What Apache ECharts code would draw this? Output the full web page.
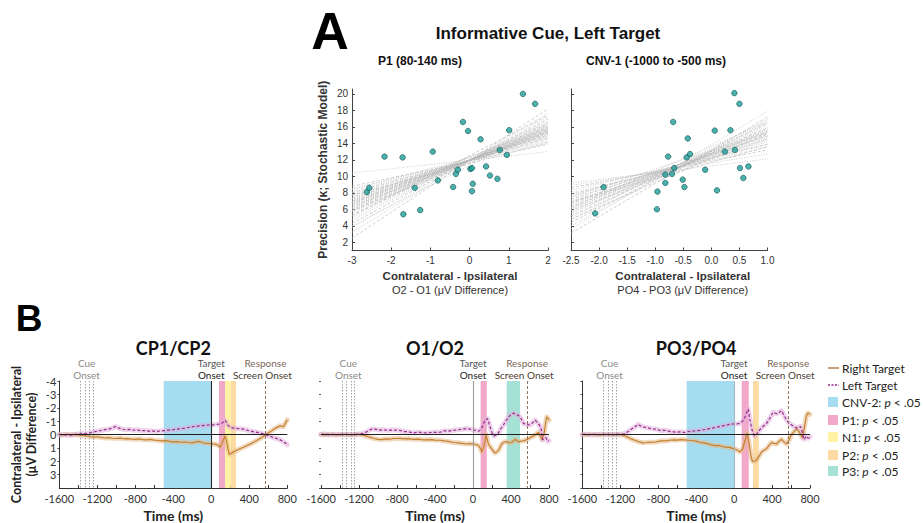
<!DOCTYPE html>
<html>
<head>
<meta charset="utf-8">
<script src="https://cdn.jsdelivr.net/npm/echarts@6/dist/echarts.min.js"></script>
<style>
  html, body { margin: 0; padding: 0; background: #fff; }
  #c { width: 923px; height: 523px; }
</style>
</head>
<body>
<div id="c"></div>
<script>
// ---------- Panel A: precision vs. lateralised amplitude ----------
// [amplitude difference (µV), precision κ]
const p1Points = [
  [-2.62, 8.1], [-2.56, 8.6], [-2.17, 12.4], [-1.71, 12.3], [-1.69, 5.4], [-1.40, 8.6],
  [-1.26, 5.9], [-0.94, 13.0], [-0.81, 9.5], [-0.42, 8.7], [-0.35, 10.3], [-0.30, 10.8],
  [-0.17, 16.6], [-0.04, 15.5], [0.02, 10.9], [0.06, 11.0], [0.08, 9.1], [0.06, 8.2],
  [0.28, 14.5], [0.42, 11.2], [0.52, 10.1], [0.71, 9.7], [0.77, 13.2], [0.95, 12.6],
  [1.01, 15.6], [1.36, 20.0], [1.67, 18.8]
];
const cnvPoints = [
  [-2.07, 5.5], [-1.92, 8.7], [-0.96, 8.15], [-0.97, 6.0], [-0.82, 9.2], [-0.82, 10.2],
  [-0.77, 12.4], [-0.70, 10.3], [-0.68, 16.6], [-0.66, 11.0], [-0.51, 9.6], [-0.48, 8.7],
  [-0.44, 12.3], [-0.42, 14.6], [-0.38, 12.7], [-0.11, 10.8], [0.06, 15.55], [0.10, 8.3],
  [0.24, 13.0], [0.34, 15.6], [0.41, 20.1], [0.42, 13.2], [0.50, 18.8], [0.51, 11.0],
  [0.57, 9.8], [0.66, 11.2]
];
// bootstrapped regression fits: [κ at left edge, κ at right edge]
const p1FitRange = [-3, 2];
const p1Fits = [
  [2.5, 18.2], [3.2, 17.7], [3.8, 17.3], [4.3, 17.0], [4.7, 16.8], [5.0, 16.6], [5.3, 16.4],
  [5.5, 16.3], [5.7, 16.2], [5.9, 16.0], [6.0, 15.9], [6.2, 15.8], [6.3, 15.7], [6.4, 15.7],
  [6.6, 15.6], [6.7, 15.5], [6.8, 15.4], [6.9, 15.4], [7.0, 15.3], [7.1, 15.2], [7.3, 15.1],
  [7.4, 15.0], [7.6, 14.9], [7.8, 14.7], [8.0, 14.6], [8.2, 14.4], [8.5, 14.2], [8.8, 13.9],
  [6.5, 15.2], [7.2, 15.8], [5.8, 15.5], [6.1, 16.5], [10.4, 13.0], [7.7, 14.1], [6.8, 16.0],
  [4.0, 16.2], [5.2, 17.4], [8.4, 14.8]
];
const cnvFitRange = [-2.5, 1.0];
const cnvFits = [
  [3.1, 17.2], [3.6, 17.9], [4.0, 16.8], [4.4, 16.5], [4.7, 16.9], [5.0, 16.2], [5.2, 15.9],
  [5.4, 16.4], [5.6, 15.7], [5.8, 15.5], [6.0, 15.9], [6.1, 15.3], [6.3, 15.1], [6.4, 15.6],
  [6.6, 14.9], [6.7, 15.3], [6.9, 14.7], [7.0, 14.4], [7.2, 14.9], [7.4, 14.2], [7.6, 14.5],
  [7.8, 13.9], [8.0, 13.6], [8.3, 13.9], [8.6, 13.2], [8.9, 12.7], [9.2, 12.1], [6.9, 13.6],
  [5.9, 14.6], [7.5, 15.4], [4.8, 15.2], [6.2, 16.6]
];
const precisionTicks = [2, 4, 6, 8, 10, 12, 14, 16, 18, 20];

// ---------- Panel B: contralateral - ipsilateral waveforms ----------
// [time (ms), µV]; negative values plotted upward
const cpRight = [
  [-1600, 0.00], [-1560, 0.03], [-1520, -0.02], [-1480, 0.02], [-1440, 0.00], [-1400, 0.05],
  [-1360, 0.07], [-1320, 0.10], [-1280, 0.15], [-1240, 0.19], [-1200, 0.17], [-1160, 0.22],
  [-1120, 0.26], [-1080, 0.24], [-1040, 0.28], [-1000, 0.30], [-960, 0.27], [-920, 0.32],
  [-880, 0.31], [-840, 0.35], [-800, 0.36], [-760, 0.33], [-720, 0.38], [-680, 0.40],
  [-640, 0.37], [-600, 0.42], [-560, 0.45], [-520, 0.48], [-480, 0.46], [-440, 0.52],
  [-400, 0.55], [-360, 0.53], [-320, 0.58], [-280, 0.56], [-240, 0.60], [-200, 0.62],
  [-160, 0.55], [-120, 0.52], [-80, 0.64], [-40, 0.66], [0, 0.69], [40, 0.72], [70, 0.80],
  [95, 0.95], [110, 0.70], [130, 0.35], [145, 0.12], [160, 0.50], [175, 1.05], [190, 1.48],
  [210, 1.40], [232, 1.31], [260, 1.22], [300, 1.07], [340, 0.95], [380, 0.80], [420, 0.68],
  [460, 0.52], [500, 0.36], [540, 0.18], [570, 0.03], [600, -0.12], [640, -0.30],
  [680, -0.50], [700, -0.55], [720, -0.65], [740, -0.62], [760, -0.58], [780, -0.85], [800, -1.10]
];
const cpLeft = [
  [-1600, 0.00], [-1560, 0.04], [-1520, 0.02], [-1480, 0.05], [-1440, 0.00], [-1400, -0.03],
  [-1360, -0.07], [-1320, -0.05], [-1280, -0.12], [-1240, -0.20], [-1200, -0.24], [-1160, -0.30],
  [-1120, -0.36], [-1080, -0.40], [-1040, -0.48], [-1010, -0.60], [-980, -0.50], [-940, -0.40],
  [-900, -0.35], [-860, -0.38], [-820, -0.32], [-780, -0.35], [-740, -0.28], [-700, -0.30],
  [-660, -0.25], [-620, -0.27], [-580, -0.22], [-540, -0.26], [-500, -0.29], [-460, -0.32],
  [-420, -0.33], [-380, -0.38], [-340, -0.42], [-300, -0.45], [-260, -0.50], [-220, -0.55],
  [-180, -0.60], [-140, -0.63], [-100, -0.66], [-60, -0.68], [-20, -0.72], [0, -0.71],
  [40, -0.74], [80, -0.78], [110, -0.83], [130, -0.95], [145, -1.07], [160, -0.90],
  [180, -0.64], [200, -0.55], [232, -0.48], [270, -0.45], [303, -0.43], [340, -0.40],
  [380, -0.32], [408, -0.26], [450, -0.20], [513, -0.12], [566, 0.00], [610, 0.10],
  [654, 0.24], [690, 0.30], [724, 0.40], [760, 0.55], [794, 0.71], [800, 0.78]
];
const ooRight = [
  [-1600, 0.00], [-1560, 0.03], [-1520, -0.02], [-1480, 0.02], [-1440, 0.00], [-1400, 0.03],
  [-1360, -0.02], [-1320, 0.02], [-1280, 0.00], [-1240, 0.03], [-1200, -0.02], [-1160, 0.05],
  [-1120, 0.12], [-1080, 0.22], [-1040, 0.30], [-1000, 0.36], [-960, 0.38], [-920, 0.33],
  [-880, 0.35], [-840, 0.30], [-800, 0.30], [-768, 0.29], [-720, 0.33], [-680, 0.31],
  [-628, 0.36], [-580, 0.34], [-540, 0.38], [-487, 0.40], [-440, 0.38], [-400, 0.42],
  [-347, 0.43], [-300, 0.48], [-260, 0.52], [-206, 0.60], [-160, 0.62], [-110, 0.67],
  [-66, 0.71], [-30, 0.68], [0, 0.71], [30, 0.75], [57, 0.83], [80, 1.05], [92, 1.31],
  [110, 1.00], [127, 0.48], [137, 0.00], [150, 0.35], [162, 0.71], [180, 0.90], [197, 1.07],
  [215, 1.25], [232, 1.38], [250, 1.30], [268, 1.19], [285, 0.95], [302, 0.71], [330, 0.55],
  [355, 0.55], [380, 0.62], [408, 0.60], [443, 0.36], [460, 0.45], [478, 0.55], [505, 0.50],
  [531, 0.48], [560, 0.40], [583, 0.31], [610, 0.20], [636, 0.12], [660, 0.00], [689, -0.17],
  [705, 0.05], [724, 0.36], [740, 0.10], [750, -0.12], [765, -0.90], [776, -1.31],
  [790, -1.20], [800, -1.07]
];
const ooLeft = [
  [-1600, 0.00], [-1560, -0.05], [-1520, 0.03], [-1480, -0.02], [-1440, 0.02], [-1400, -0.03],
  [-1360, 0.02], [-1320, -0.02], [-1280, 0.02], [-1240, -0.03], [-1200, 0.00], [-1160, -0.08],
  [-1120, -0.20], [-1080, -0.35], [-1060, -0.42], [-1020, -0.38], [-980, -0.33], [-940, -0.36],
  [-900, -0.30], [-860, -0.33], [-820, -0.33], [-768, -0.30], [-720, -0.22], [-680, -0.20],
  [-628, -0.12], [-580, -0.18], [-540, -0.14], [-487, -0.12], [-440, -0.15], [-400, -0.16],
  [-347, -0.17], [-300, -0.28], [-260, -0.25], [-206, -0.31], [-160, -0.35], [-110, -0.40],
  [-66, -0.45], [-30, -0.40], [0, -0.36], [30, -0.30], [57, -0.24], [80, -0.35], [92, -0.48],
  [110, -0.80], [127, -1.07], [152, -1.19], [170, -0.80], [187, -0.40], [205, -0.05],
  [222, 0.12], [245, 0.00], [268, -0.12], [295, -0.45], [320, -0.71], [345, -1.00],
  [373, -1.31], [400, -1.48], [425, -1.60], [450, -1.50], [478, -1.43], [505, -1.20],
  [531, -0.83], [565, -0.75], [601, -0.71], [630, -0.90], [654, -1.07], [675, -0.90],
  [699, -0.71], [715, -0.50], [734, 0.40], [750, 0.30], [769, 0.24], [785, 0.50], [800, 0.45]
];
const poRight = [
  [-1600, 0.00], [-1560, 0.03], [-1520, -0.02], [-1480, 0.02], [-1440, 0.00], [-1400, 0.03],
  [-1360, -0.02], [-1320, 0.02], [-1280, 0.00], [-1240, 0.03], [-1200, 0.00], [-1160, 0.08],
  [-1120, 0.20], [-1080, 0.35], [-1040, 0.45], [-1000, 0.55], [-960, 0.62], [-920, 0.60],
  [-880, 0.57], [-840, 0.58], [-800, 0.52], [-760, 0.47], [-720, 0.48], [-680, 0.43],
  [-640, 0.40], [-600, 0.42], [-560, 0.38], [-520, 0.40], [-480, 0.43], [-440, 0.45],
  [-400, 0.50], [-360, 0.58], [-320, 0.62], [-280, 0.68], [-240, 0.78], [-200, 0.83],
  [-160, 0.82], [-120, 0.90], [-80, 0.95], [-40, 0.98], [0, 1.07], [30, 1.15], [61, 1.31],
  [89, 1.10], [110, 0.60], [124, 0.24], [138, -0.12], [152, 0.40], [167, 1.07], [180, 1.70],
  [195, 2.02], [215, 2.00], [237, 1.90], [265, 1.60], [290, 1.31], [320, 1.15], [342, 1.07],
  [370, 0.80], [395, 0.60], [420, 0.66], [448, 0.71], [475, 0.50], [500, 0.36], [525, 0.55],
  [553, 0.71], [580, 0.40], [606, 0.00], [630, -0.20], [658, -0.40], [680, -0.25],
  [693, -0.12], [707, 0.10], [721, 0.24], [740, -0.50], [763, -1.43], [778, -1.60],
  [791, -1.55], [800, -1.50]
];
const poLeft = [
  [-1600, 0.00], [-1560, -0.03], [-1520, 0.03], [-1480, -0.02], [-1440, 0.02], [-1400, -0.03],
  [-1360, 0.02], [-1320, -0.02], [-1280, 0.02], [-1240, -0.03], [-1200, 0.00], [-1160, -0.05],
  [-1120, -0.20], [-1098, -0.33], [-1060, -0.50], [-1030, -0.65], [-1010, -0.76], [-980, -0.62],
  [-950, -0.55], [-922, -0.52], [-880, -0.45], [-850, -0.42], [-817, -0.40], [-780, -0.30],
  [-740, -0.32], [-712, -0.29], [-670, -0.22], [-640, -0.20], [-606, -0.17], [-560, -0.20],
  [-520, -0.15], [-500, -0.20], [-460, -0.24], [-420, -0.26], [-380, -0.29], [-340, -0.33],
  [-300, -0.38], [-260, -0.44], [-220, -0.50], [-180, -0.55], [-140, -0.60], [-100, -0.68],
  [-60, -0.74], [-20, -0.78], [0, -0.79], [30, -0.80], [61, -0.83], [90, -1.00], [114, -1.31],
  [135, -1.70], [149, -1.90], [165, -1.20], [184, -0.48], [200, -0.10], [219, 0.12],
  [245, -0.10], [272, -0.36], [305, -0.60], [342, -0.83], [375, -1.20], [412, -1.67],
  [448, -1.55], [475, -1.65], [500, -1.79], [525, -1.45], [553, -1.07], [580, -0.85],
  [606, -0.71], [630, -0.60], [658, -0.48], [680, -0.55], [700, -0.60], [718, -0.20],
  [735, 0.36], [750, 0.25], [763, 0.12], [778, 0.28], [791, 0.24], [800, 0.20]
];
// significant windows (ms) per component
const cpWindows = [['CNV-2', -500, 0], ['P1', 80, 145], ['N1', 145, 205], ['P2', 205, 260]];
const ooWindows = [['P1', 80, 145], ['P3', 355, 495]];
const poWindows = [['CNV-2', -500, 0], ['P1', 80, 155], ['P2', 200, 260]];
const cueTimes = [-1380, -1330, -1285, -1245];
const targetTime = 0;
const responseTime = 570;
const timeRange = [-1600, 800];
const ampRange = [-4, 4];
const panelNames = ['CP1/CP2', 'O1/O2', 'PO3/PO4'];
const legendNames = ['CNV-2', 'P1', 'N1', 'P2', 'P3'];

// ---------- styling ----------
const windowColors = { 'CNV-2': '#a6dcf0', P1: '#f2a8c9', N1: '#fff3a3', P2: '#fcdba2', P3: '#a6e1d5' };
const rightColor = '#c4802f';
const leftColor = '#9b2d8e';
const uiFont = 'Lato, "Open Sans", sans-serif';
const sansFont = '"Liberation Sans", Arial, sans-serif';

const chart = echarts.init(document.getElementById('c'), null, { renderer: 'svg' });

const scatterGrids = [
  { left: 352, top: 89, width: 196, height: 161.5 },
  { left: 571, top: 89, width: 196.5, height: 161.5 }
];
const erpGrids = [
  { left: 59.3, top: 381, width: 228, height: 112.3 },
  { left: 321, top: 381, width: 228, height: 112.3 },
  { left: 582.3, top: 381, width: 227.7, height: 112.3 }
];

function scatterX(gi, range, interval, digits, nameLine2, shift) {
  return {
    type: 'value', gridIndex: gi, min: range[0], max: range[1], interval: interval,
    axisLine: { onZero: false, lineStyle: { color: '#444', width: 1 } },
    axisTick: { inside: true, length: 3, lineStyle: { color: '#444' } },
    splitLine: { show: false },
    axisLabel: { fontFamily: sansFont, fontSize: 10, color: '#333', margin: 5,
      formatter: v => v.toFixed(digits) },
    name: '{b|Contralateral - Ipsilateral}\n{n|' + nameLine2 + '}',
    nameLocation: 'middle', nameGap: 18,
    nameTextStyle: {
      padding: [0, 0, 0, shift],
      rich: {
        b: { fontFamily: sansFont, fontWeight: 'bold', fontSize: 11.5, color: '#333', lineHeight: 14 },
        n: { fontFamily: sansFont, fontSize: 11, color: '#333', lineHeight: 14 }
      }
    }
  };
}
function scatterY(gi, showLabels) {
  const ax = {
    type: 'value', gridIndex: gi, min: 1, max: 20.6,
    axisLine: { show: true, onZero: false, lineStyle: { color: '#444', width: 1 } },
    axisTick: { show: true, inside: true, length: 3, customValues: precisionTicks, lineStyle: { color: '#444' } },
    splitLine: { show: false },
    axisLabel: { show: showLabels, customValues: precisionTicks, fontFamily: sansFont, fontSize: 10, color: '#333', margin: 4 }
  };
  if (showLabels) {
    ax.name = 'Precision (κ; Stochastic Model)';
    ax.nameLocation = 'middle';
    ax.nameGap = 23;
    ax.nameTextStyle = { fontFamily: sansFont, fontWeight: 'bold', fontSize: 12, color: '#333' };
  }
  return ax;
}
function erpX(gi) {
  return {
    type: 'value', gridIndex: gi, min: timeRange[0], max: timeRange[1], interval: 200,
    axisLine: { onZero: false, lineStyle: { color: '#333', width: 1 } },
    axisTick: { inside: true, length: 3, lineStyle: { color: '#333' } },
    splitLine: { show: false },
    axisLabel: { fontFamily: uiFont, fontSize: 11, color: '#333', margin: 5,
      formatter: v => (v % 400 === 0 ? String(v) : '') },
    name: 'Time (ms)', nameLocation: 'middle', nameGap: 20,
    nameTextStyle: { fontFamily: uiFont, fontWeight: 'bold', fontSize: 14, color: '#222' }
  };
}
function erpY(gi) {
  const first = gi === 2;
  const ax = {
    type: 'value', gridIndex: gi, min: ampRange[0], max: ampRange[1], interval: 1, inverse: true,
    axisLine: { show: gi !== 3, onZero: false, lineStyle: { color: '#333', width: 1 } },
    axisTick: { show: true, inside: false, length: 2, lineStyle: { color: '#555' } },
    splitLine: { show: false },
    axisLabel: { show: first, showMaxLabel: false, fontFamily: uiFont, fontSize: 11, color: '#333', margin: 3 }
  };
  if (first) {
    ax.name = 'Contralateral - Ipsilateral\n(μV Difference)';
    ax.nameLocation = 'middle';
    ax.nameGap = 20;
    ax.nameTextStyle = { fontFamily: uiFont, fontWeight: 'bold', fontSize: 12.5, color: '#222', lineHeight: 15 };
  }
  return ax;
}

const series = [];
// scatter panels
[[p1Fits, p1FitRange, p1Points], [cnvFits, cnvFitRange, cnvPoints]].forEach(([fits, range, pts], gi) => {
  series.push({
    type: 'lines', coordinateSystem: 'cartesian2d', xAxisIndex: gi, yAxisIndex: gi,
    silent: true, z: 1,
    lineStyle: { color: '#b9b9b9', width: 0.7, opacity: 1 },
    data: fits.map((f, i) => ({
      coords: [[range[0], f[0]], [range[1], f[1]]],
      lineStyle: { type: i % 3 === 0 ? [3, 2] : [1, 1.5] }
    }))
  });
  series.push({
    type: 'scatter', xAxisIndex: gi, yAxisIndex: gi, z: 3, silent: true,
    symbol: 'circle', symbolSize: 5.5,
    itemStyle: { color: '#1f9d98', borderColor: '#0b5553', borderWidth: 0.8 },
    data: pts
  });
});

// waveform panels
const erpSets = [
  { right: cpRight, left: cpLeft, windows: cpWindows, target: '#2a2a2a' },
  { right: ooRight, left: ooLeft, windows: ooWindows, target: '#9a9a9a' },
  { right: poRight, left: poLeft, windows: poWindows, target: '#9fb9c9' }
];
erpSets.forEach((set, k) => {
  const gi = k + 2;
  // significance windows
  series.push({
    type: 'line', xAxisIndex: gi, yAxisIndex: gi, data: [], silent: true, z: 1,
    markArea: {
      silent: true,
      data: set.windows.map(w => [
        { xAxis: w[1], itemStyle: { color: windowColors[w[0]], opacity: 1 } },
        { xAxis: w[2] }
      ])
    }
  });
  // reference lines
  const refs = cueTimes.map(t => ({ xAxis: t, lineStyle: { color: '#8e8e8e', width: 0.8, type: [1.5, 1.5] } }));
  refs.push({ xAxis: targetTime, lineStyle: { color: set.target, width: 1.1, type: 'solid' } });
  refs.push({ xAxis: responseTime, lineStyle: { color: '#8c7460', width: 1, type: [3, 2] } });
  refs.push({ yAxis: 0, lineStyle: { color: '#1e1e1e', width: 1.1, type: 'solid' } });
  series.push({
    type: 'line', xAxisIndex: gi, yAxisIndex: gi, data: [], silent: true, z: 2,
    markLine: { silent: true, symbol: ['none', 'none'], label: { show: false }, animation: false, data: refs }
  });
  // SEM haze + mean waveform
  [[set.right, rightColor, 'solid', '#e6b98a'], [set.left, leftColor, [3, 2], '#e0b0da']].forEach(([d, c, dash, halo]) => {
    series.push({
      type: 'line', xAxisIndex: gi, yAxisIndex: gi, data: d, silent: true, z: 3,
      showSymbol: false, lineStyle: { color: halo, width: 5, opacity: 0.55, cap: 'round', join: 'round' }
    });
    series.push({
      type: 'line', xAxisIndex: gi, yAxisIndex: gi, data: d, silent: true, z: 4,
      showSymbol: false, lineStyle: { color: c, width: 1.2, type: dash }
    });
  });
});

chart.setOption({
  animation: false,
  backgroundColor: '#fff',
  grid: scatterGrids.concat(erpGrids),
  xAxis: [
    scatterX(0, p1FitRange, 1, 0, 'O2 - O1 (μV Difference)', 0),
    scatterX(1, cnvFitRange, 0.5, 1, 'PO4 - PO3 (μV Difference)', 27),
    erpX(2), erpX(3), erpX(4)
  ],
  yAxis: [scatterY(0, true), scatterY(1, false), erpY(2), erpY(3), erpY(4)],
  series: series
});

// ---------- text annotations placed through the axes ----------
const px = (gi, t) => chart.convertToPixel({ xAxisIndex: gi }, t);
const graphics = [];
function txt(x, y, text, font, fill, align) {
  graphics.push({ type: 'text', silent: true, style: {
    x: x, y: y, text: text, font: font, fill: fill,
    textAlign: align || 'center', textVerticalAlign: 'middle' } });
}
txt(330, 31, 'A', 'bold 52px ' + sansFont, '#000');
txt(29, 318, 'B', 'bold 37px ' + sansFont, '#000');
txt(548, 33, 'Informative Cue, Left Target', 'bold 17px ' + sansFont, '#111');
txt(420, 61, 'P1 (80-140 ms)', 'bold 12px ' + sansFont, '#111');
txt(656, 61, 'CNV-1 (-1000 to -500 ms)', 'bold 12px ' + sansFont, '#111');

panelNames.forEach((name, k) => {
  const gi = k + 2;
  const mid = (px(gi, timeRange[0]) + px(gi, timeRange[1])) / 2;
  txt(mid, 348, name, 'bold 18px ' + uiFont, '#111');
  const cueX = px(gi, (cueTimes[0] + cueTimes[cueTimes.length - 1]) / 2);
  txt(cueX, 363, 'Cue', '10px ' + uiFont, '#8a8a8a');
  txt(cueX, 375, 'Onset', '10px ' + uiFont, '#8a8a8a');
  const tx = px(gi, targetTime);
  txt(tx, 363, 'Target', '10px ' + uiFont, '#555');
  txt(tx, 375, 'Onset', '10px ' + uiFont, '#222');
  const rx = px(gi, responseTime);
  txt(rx, 363, 'Response', '10px ' + uiFont, '#7a6858');
  txt(rx - 3, 375, 'Screen Onset', '10px ' + uiFont, '#4a3c30');
});

// legend
const legY = [368, 385, 402, 420, 437, 455, 471];
graphics.push({ type: 'line', silent: true, shape: { x1: 828, y1: legY[0], x2: 839, y2: legY[0] },
  style: { stroke: '#a26a2e', lineWidth: 1.3 } });
graphics.push({ type: 'line', silent: true, shape: { x1: 828, y1: legY[1], x2: 839, y2: legY[1] },
  style: { stroke: leftColor, lineWidth: 1.3, lineDash: [2, 1.5] } });
txt(842, legY[0], 'Right Target', '12px ' + uiFont, '#222', 'left');
txt(842, legY[1], 'Left Target', '12px ' + uiFont, '#222', 'left');
legendNames.forEach((n, i) => {
  const y = legY[i + 2];
  graphics.push({ type: 'rect', silent: true, shape: { x: 828, y: y - 5, width: 10, height: 10 },
    style: { fill: windowColors[n] } });
  graphics.push({ type: 'text', silent: true, style: {
    x: 842, y: y, text: '{n|' + n + ': }{i|p}{n| < .05}', textAlign: 'left', textVerticalAlign: 'middle',
    rich: {
      n: { fontFamily: uiFont, fontSize: 12, fill: '#222', color: '#222' },
      i: { fontFamily: uiFont, fontSize: 12, fontStyle: 'italic', fill: '#222', color: '#222' }
    } } });
});

chart.setOption({ graphic: { elements: graphics } });
</script>
</body>
</html>
